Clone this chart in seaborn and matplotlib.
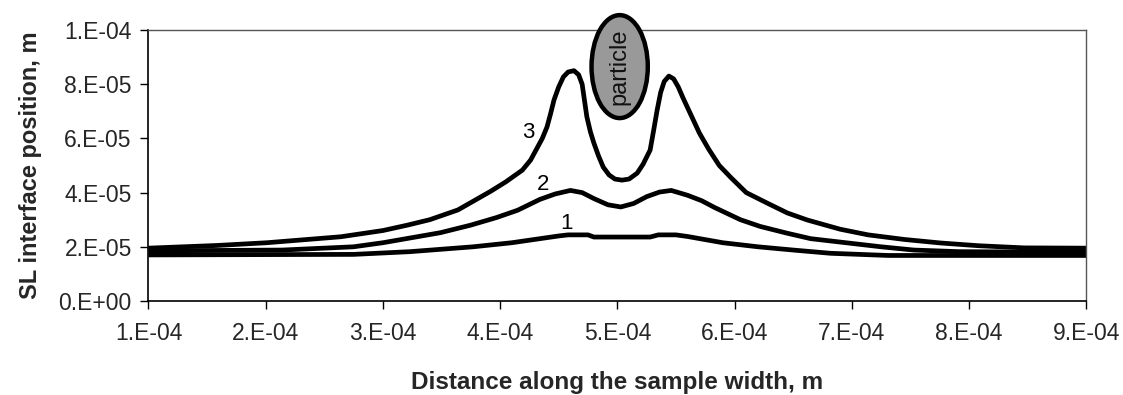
import matplotlib
matplotlib.use("Agg")
import matplotlib.pyplot as plt
import seaborn as sns
import pandas as pd
from matplotlib.patches import Ellipse

# ---- data ----
x1 = [1.0e-4, 2.75e-4, 3.23e-4, 3.77e-4, 4.10e-4, 4.34e-4, 4.50e-4, 4.58e-4,
      4.75e-4, 4.80e-4, 5.28e-4, 5.35e-4, 5.50e-4, 5.60e-4, 5.90e-4, 6.20e-4,
      6.50e-4, 6.82e-4, 7.31e-4, 9.0e-4]
y1 = [1.70e-5, 1.72e-5, 1.82e-5, 2.00e-5, 2.15e-5, 2.30e-5, 2.40e-5, 2.44e-5,
      2.44e-5, 2.36e-5, 2.36e-5, 2.44e-5, 2.44e-5, 2.38e-5, 2.15e-5, 2.00e-5,
      1.88e-5, 1.76e-5, 1.68e-5, 1.68e-5]

x2 = [1.0e-4, 2.14e-4, 2.75e-4, 3.00e-4, 3.49e-4, 3.75e-4, 3.97e-4, 4.15e-4,
      4.34e-4, 4.47e-4, 4.60e-4, 4.70e-4, 4.80e-4, 4.92e-4, 5.03e-4, 5.14e-4,
      5.25e-4, 5.36e-4, 5.46e-4, 5.60e-4, 5.72e-4, 5.83e-4, 6.05e-4, 6.22e-4,
      6.45e-4, 6.65e-4, 7.25e-4, 7.53e-4, 7.92e-4, 9.0e-4]
y2 = [1.85e-5, 1.88e-5, 2.00e-5, 2.15e-5, 2.52e-5, 2.80e-5, 3.08e-5, 3.35e-5,
      3.75e-5, 3.95e-5, 4.08e-5, 4.00e-5, 3.78e-5, 3.55e-5, 3.47e-5, 3.60e-5,
      3.85e-5, 4.02e-5, 4.08e-5, 3.90e-5, 3.70e-5, 3.45e-5, 3.00e-5, 2.75e-5,
      2.50e-5, 2.30e-5, 2.00e-5, 1.88e-5, 1.82e-5, 1.80e-5]

x3 = [1.0e-4, 1.59e-4, 2.01e-4, 2.64e-4, 3.00e-4, 3.21e-4, 3.40e-4, 3.64e-4,
      3.92e-4, 4.05e-4, 4.19e-4, 4.26e-4, 4.32e-4, 4.36e-4, 4.40e-4, 4.43e-4,
      4.46e-4, 4.50e-4, 4.54e-4, 4.58e-4, 4.63e-4, 4.67e-4, 4.70e-4, 4.72e-4,
      4.74e-4, 4.77e-4, 4.80e-4, 4.84e-4, 4.88e-4, 4.93e-4, 4.98e-4, 5.04e-4,
      5.10e-4, 5.17e-4, 5.22e-4, 5.28e-4, 5.31e-4, 5.34e-4, 5.37e-4, 5.40e-4,
      5.44e-4, 5.48e-4, 5.52e-4, 5.56e-4, 5.63e-4, 5.70e-4, 5.78e-4, 5.87e-4,
      5.97e-4, 6.10e-4, 6.28e-4, 6.45e-4, 6.62e-4, 6.90e-4, 7.14e-4, 7.45e-4,
      7.76e-4, 8.08e-4, 8.47e-4, 9.0e-4]
y3 = [1.95e-5, 2.05e-5, 2.15e-5, 2.37e-5, 2.60e-5, 2.80e-5, 3.00e-5, 3.36e-5,
      4.05e-5, 4.40e-5, 4.83e-5, 5.20e-5, 5.68e-5, 6.00e-5, 6.42e-5, 6.90e-5,
      7.42e-5, 7.90e-5, 8.27e-5, 8.45e-5, 8.50e-5, 8.35e-5, 8.00e-5, 7.40e-5,
      6.80e-5, 6.25e-5, 5.83e-5, 5.35e-5, 4.94e-5, 4.65e-5, 4.50e-5, 4.46e-5,
      4.50e-5, 4.72e-5, 5.05e-5, 5.57e-5, 6.30e-5, 7.05e-5, 7.70e-5, 8.10e-5,
      8.30e-5, 8.20e-5, 7.90e-5, 7.50e-5, 6.85e-5, 6.20e-5, 5.60e-5, 5.00e-5,
      4.55e-5, 4.00e-5, 3.61e-5, 3.25e-5, 2.99e-5, 2.65e-5, 2.44e-5, 2.27e-5,
      2.14e-5, 2.04e-5, 1.96e-5, 1.95e-5]

curve_names = ["1", "2", "3"]
label_x = [4.57e-4, 4.37e-4, 4.24e-4]
label_y = [2.85e-5, 4.30e-5, 6.20e-5]

xticks = [1e-4, 2e-4, 3e-4, 4e-4, 5e-4, 6e-4, 7e-4, 8e-4, 9e-4]
xtick_labels = ["1.E-04", "2.E-04", "3.E-04", "4.E-04", "5.E-04",
                "6.E-04", "7.E-04", "8.E-04", "9.E-04"]
yticks = [0, 2e-5, 4e-5, 6e-5, 8e-5, 1e-4]
ytick_labels = ["0.E+00", "2.E-05", "4.E-05", "6.E-05", "8.E-05", "1.E-04"]

particle_center = (5.02e-4, 8.65e-5)
particle_size = (4.8e-5, 3.8e-5)

# ---- figure ----
sns.set_theme(style="white")
plt.rcParams["font.family"] = ["Liberation Sans", "DejaVu Sans"]

fig = plt.figure(figsize=(11.23, 3.95), dpi=100)
ax = fig.add_axes([0.1322, 0.238, 0.835, 0.686])

for xs, ys in [(x1, y1), (x2, y2), (x3, y3)]:
    df = pd.DataFrame({"x": xs, "y": ys})
    sns.lineplot(data=df, x="x", y="y", ax=ax, color="black", linewidth=3.4,
                 sort=False, estimator=None, solid_joinstyle="round",
                 solid_capstyle="butt")

for name, lx, ly in zip(curve_names, label_x, label_y):
    ax.text(lx, ly, name, fontsize=16, ha="center", va="center", color="black")

ell = Ellipse(particle_center, particle_size[0], particle_size[1],
              facecolor="#999999", edgecolor="black", linewidth=3.2,
              clip_on=False, zorder=5)
ax.add_patch(ell)
ax.text(particle_center[0], particle_center[1], "particle", rotation=90,
        fontsize=17, ha="center", va="center", color="#111111", zorder=6,
        clip_on=False)

ax.set_xlim(1e-4, 9e-4)
ax.set_ylim(0, 1e-4)
ax.set_xticks(xticks)
ax.set_xticklabels(xtick_labels)
ax.set_yticks(yticks)
ax.set_yticklabels(ytick_labels)
ax.tick_params(axis="both", direction="out", length=6, width=1, color="black",
               labelsize=16.5, pad=6, bottom=True, left=True)
ax.tick_params(axis="x", pad=9)

for side in ["left", "bottom"]:
    ax.spines[side].set_color("black")
    ax.spines[side].set_linewidth(1.2)
for side in ["top", "right"]:
    ax.spines[side].set_color("#555555")
    ax.spines[side].set_linewidth(1.0)

ax.set_xlabel("Distance along the sample width, m", fontsize=17.5,
              fontweight="bold", labelpad=19)
ax.set_ylabel("SL interface position, m", fontsize=17, fontweight="bold",
              labelpad=12)
ax.grid(False)

fig.savefig("out.png", dpi=100, facecolor="white")
